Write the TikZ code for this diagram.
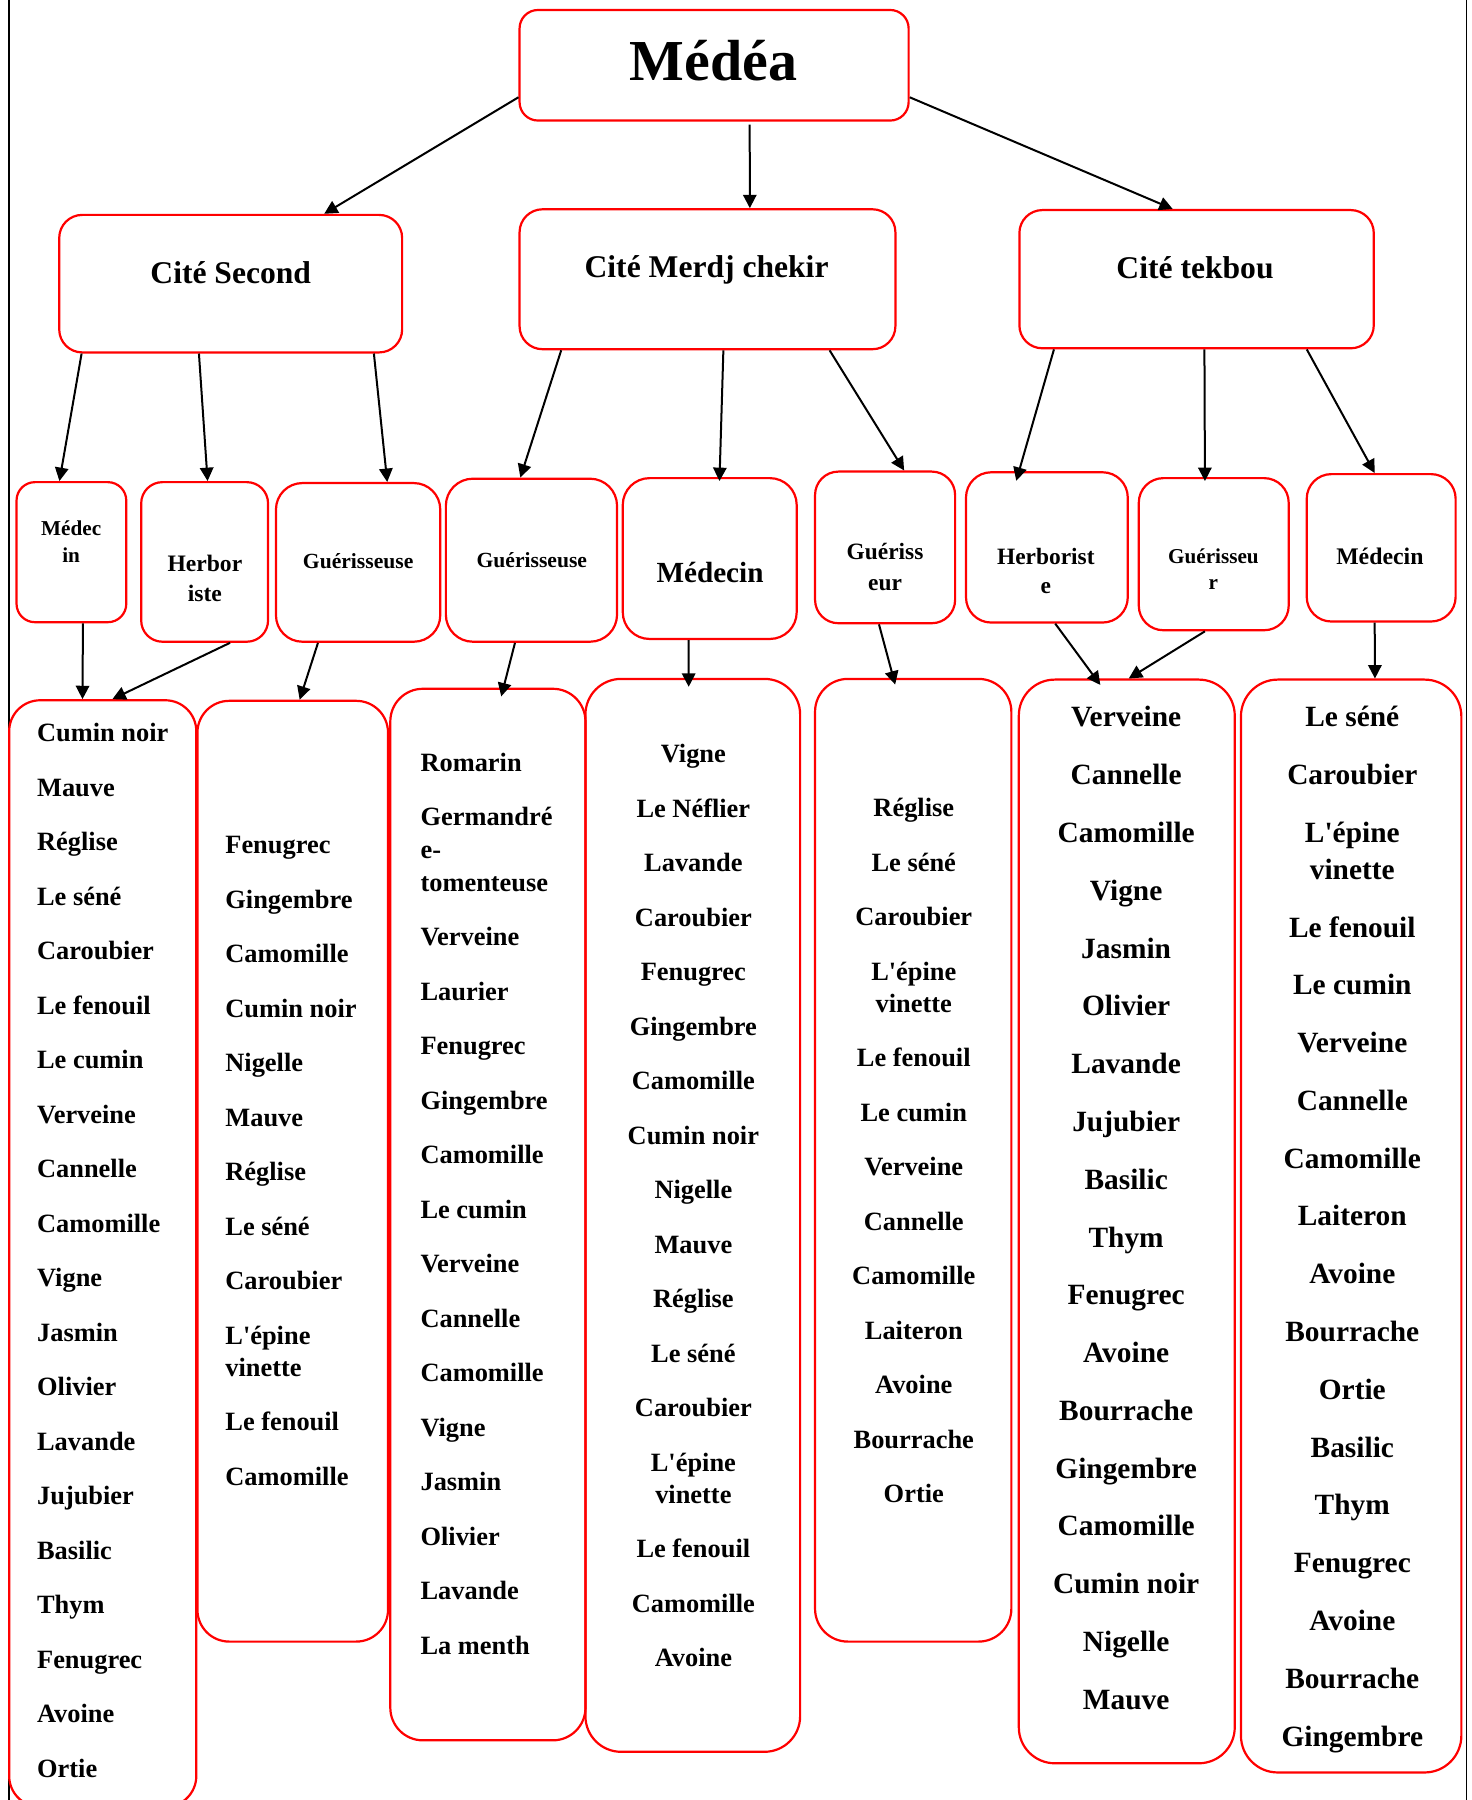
\documentclass[tikz,border=0pt]{standalone}
\usepackage{fontspec}
\setmainfont{Liberation Serif}
\usetikzlibrary{arrows.meta,calc,fit}
\definecolor{boxred}{RGB}{255,0,0}

\begin{document}
\begin{tikzpicture}[x=0.5741pt,y=-0.5741pt,
    box/.style={draw=boxred, line width=1.1pt, rounded corners=#1, inner sep=0pt},
    box/.default=11.5pt,
    arr/.style={-{Triangle[length=6.7pt,width=6.7pt]}, line width=1pt},
    role/.style 2 args={font=\fontsize{#1}{#2}\selectfont\bfseries, inner sep=0pt, anchor=base, align=center},
    itemsm/.style={font=\fontsize{13.2}{27.25}\selectfont\bfseries, inner sep=0pt},
    itemlg/.style={font=\fontsize{14.7}{28.9}\selectfont\bfseries, inner sep=0pt, anchor=base, align=center}]
  \useasboundingbox (0,0) rectangle (1282,1568);
  % page frame (left and right rules only)
  \draw[line width=0.9pt] (7.5,0) -- (7.5,1568);
  \draw[line width=0.9pt] (1277.5,0) -- (1277.5,1568);

  % level 1 and 2
  \node[box=9.2pt, fit={(452.6,8.7) (791.5,105)}] (medea) {};
  \node[role={29}{35}] (medea-t) at (621.5,69.7) {Médéa};
  \node[box, fit={(51.6,187.2) (350.3,307)}] (second) {};
  \node[role={15.8}{19}] (second-t) at (201,246.7) {Cité Second};
  \node[box, fit={(452.6,182.3) (780,304.2)}] (merdj) {};
  \node[role={15.8}{19}] (merdj-t) at (615.5,241.8) {Cité Merdj chekir};
  \node[box, fit={(888,183) (1196.7,303.4)}] (tekbou) {};
  \node[role={15.8}{19}] (tekbou-t) at (1041,242.7) {Cité tekbou};

  % level 3 (base anchor = last line)
  \node[box=9.2pt, fit={(14.4,420) (110,542)}] (med1) {};
  \node[role={10.6}{13.5}] (med1-t) at (62,490) {Médec\\in};
  \node[box=10.6pt, fit={(123,420) (233.5,559)}] (herb1) {};
  \node[role={11.8}{14.9}] (herb1-t) at (178.5,524) {Herbor\\iste};
  \node[box=13.2pt, fit={(240.4,420.8) (383.5,559)}] (gue1) {};
  \node[role={10.8}{13}] (gue1-t) at (312,495.3) {Guérisseuse};
  \node[box=13.5pt, fit={(388.4,417) (537.5,559)}] (gue2) {};
  \node[role={10.8}{13}] (gue2-t) at (463.3,494.4) {Guérisseuse};
  \node[box=13.4pt, fit={(542.5,416.5) (694,556.6)}] (med2) {};
  \node[role={14.6}{17}] (med2-t) at (618.5,507.5) {Médecin};
  \node[box=11.7pt, fit={(710,410.8) (832,542.9)}] (gueur1) {};
  \node[role={11.7}{15.4}] (gueur1-t) at (771,514.5) {Guériss\\eur};
  \node[box=12.6pt, fit={(841.5,411.4) (982.4,542.3)}] (herb2) {};
  \node[role={11.7}{14.6}] (herb2-t) at (911,517.4) {Herborist\\e};
  \node[box=12.3pt, fit={(992,416.5) (1122.6,549)}] (gueur2) {};
  \node[role={10.6}{13}] (gueur2-t) at (1057,513.9) {Guérisseu\\r};
  \node[box=12.3pt, fit={(1138.3,413) (1268,541.4)}] (med3) {};
  \node[role={11.9}{14}] (med3-t) at (1202,492) {Médecin};

  % plant lists (base anchor = last line)
  \node[box=15.5pt, fit={(8,610) (171,1574)}] (col1) {};
  \node[itemsm, anchor=base west, align=left] (col1-t) at (32,1548) {Cumin noir\\Mauve\\Réglise\\Le séné\\Caroubier\\Le fenouil\\Le cumin\\Verveine\\Cannelle\\Camomille\\Vigne\\Jasmin\\Olivier\\Lavande\\Jujubier\\Basilic\\Thym\\Fenugrec\\Avoine\\Ortie};
  \node[box=15.9pt, fit={(172,610.5) (338,1430)}] (col2) {};
  \node[itemsm, anchor=base west, align=left] (col2-t) at (196,1294) {Fenugrec\\Gingembre\\Camomille\\Cumin noir\\Nigelle\\Mauve\\Réglise\\Le séné\\Caroubier\\L\textquotesingle épine\\[-11.15pt]vinette\\Le fenouil\\Camomille};
  \node[box=16.3pt, fit={(340,600) (510,1516)}] (col3) {};
  \node[itemsm, anchor=base west, align=left] (col3-t) at (366,1441) {Romarin\\Germandré\\[-10.9pt]e-\\[-10.9pt]tomenteuse\\Verveine\\Laurier\\Fenugrec\\Gingembre\\Camomille\\Le cumin\\Verveine\\Cannelle\\Camomille\\Vigne\\Jasmin\\Olivier\\Lavande\\La menth};
  \node[box=17.8pt, fit={(510,591.4) (697,1526)}] (col4) {};
  \node[itemsm, anchor=base, align=center] (col4-t) at (604,1452) {Vigne\\Le Néflier\\Lavande\\Caroubier\\Fenugrec\\Gingembre\\Camomille\\Cumin noir\\Nigelle\\Mauve\\Réglise\\Le séné\\Caroubier\\L\textquotesingle épine\\[-11.15pt]vinette\\Le fenouil\\Camomille\\Avoine};
  \node[box=16.4pt, fit={(710,591.4) (881,1430)}] (col5) {};
  \node[itemsm, anchor=base, align=center] (col5-t) at (796,1309) {Réglise\\Le séné\\Caroubier\\L\textquotesingle épine\\[-11.15pt]vinette\\Le fenouil\\Le cumin\\Verveine\\Cannelle\\Camomille\\Laiteron\\Avoine\\Bourrache\\Ortie};
  \node[box=18pt, fit={(887.5,592) (1075.6,1536)}] (col6) {};
  \node[itemlg] (col6-t) at (981,1489) {Verveine\\Cannelle\\Camomille\\Vigne\\Jasmin\\Olivier\\Lavande\\Jujubier\\Basilic\\Thym\\Fenugrec\\Avoine\\Bourrache\\Gingembre\\Camomille\\Cumin noir\\Nigelle\\Mauve};
  \node[box=18.4pt, fit={(1081,592) (1273,1544)}] (col7) {};
  \node[itemlg] (col7-t) at (1178,1521) {Le séné\\Caroubier\\L\textquotesingle épine\\[-10.5pt]vinette\\Le fenouil\\Le cumin\\Verveine\\Cannelle\\Camomille\\Laiteron\\Avoine\\Bourrache\\Ortie\\Basilic\\Thym\\Fenugrec\\Avoine\\Bourrache\\Gingembre};

  % arrows
  \draw[arr] ($(medea.south west)!0.216!(medea.north west)$) -- ($(second.north west)!0.771!(second.north east)$);
  \draw[arr, shorten <=1.5pt] ($(medea.south west)!0.591!(medea.south east)$) -- ($(merdj.north west)!0.612!(merdj.north east)$);
  \draw[arr] ($(medea.south east)!0.216!(medea.north east)$) -- ($(tekbou.north west)!0.433!(tekbou.north east)$);
  \foreach \a/\fa/\b/\fb/\s in {second/0.068/med1/0.393/0, second/0.408/herb1/0.523/0, second/0.915/gue1/0.675/0,
      merdj/0.113/gue2/0.436/0, merdj/0.542/med2/0.556/-2, merdj/0.823/gueur1/0.634/0,
      tekbou/0.100/herb2/0.33/-5, tekbou/0.522/gueur2/0.442/-2, tekbou/0.809/med3/0.457/0,
      med1/0.603/col1/0.393/0, herb1/0.697/col1/0.551/0, gue1/0.259/col2/0.536/0,
      gue2/0.405/col3/0.579/-4.5, med2/0.380/col4/0.481/-4.5, gueur1/0.457/col5/0.4/-3.5,
      herb2/0.551/col6/0.357/-4, gueur2/0.442/col6/0.509/0, med3/0.457/col7/0.607/0}
    \draw[arr, shorten >=\s pt] ($(\a.south west)!\fa!(\a.south east)$) -- ($(\b.north west)!\fb!(\b.north east)$);
\end{tikzpicture}
\end{document}
